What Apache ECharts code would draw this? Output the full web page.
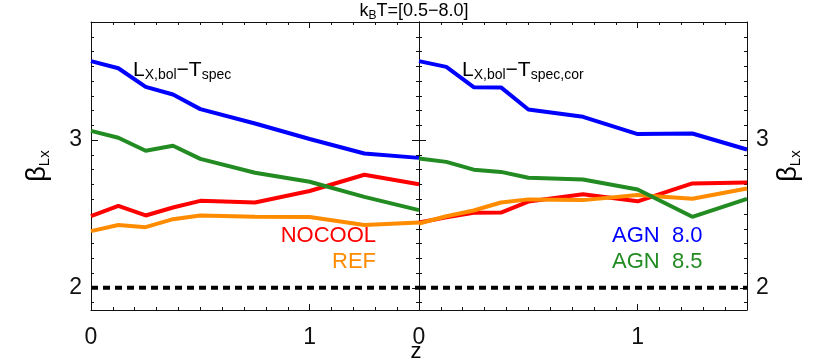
<!DOCTYPE html>
<html>
<head>
<meta charset="utf-8">
<script src="https://cdn.jsdelivr.net/npm/echarts@6/dist/echarts.min.js"></script>
<style>
html, body { margin: 0; padding: 0; background: #fff; }
#chart { width: 830px; height: 361px; }
</style>
</head>
<body>
<div id="chart"></div>
<script>
// redshift samples shared by every curve
var zVals = [0, 0.125, 0.25, 0.375, 0.5, 0.75, 1.0, 1.25, 1.5];

// left panel: Lx,bol - Tspec
var leftAgn80   = [3.535, 3.487, 3.361, 3.309, 3.210, 3.113, 3.008, 2.910, 2.880];
var leftAgn85   = [3.063, 3.016, 2.928, 2.962, 2.873, 2.779, 2.718, 2.616, 2.526];
var leftNocool  = [2.485, 2.555, 2.490, 2.544, 2.589, 2.578, 2.656, 2.766, 2.702];
var leftRef     = [2.384, 2.425, 2.411, 2.465, 2.490, 2.481, 2.479, 2.425, 2.443];

// right panel: Lx,bol - Tspec,cor
var rightAgn80  = [3.535, 3.496, 3.359, 3.357, 3.208, 3.158, 3.041, 3.045, 2.937];
var rightAgn85  = [2.876, 2.853, 2.800, 2.785, 2.745, 2.734, 2.666, 2.481, 2.602];
var rightNocool = [2.443, 2.477, 2.508, 2.510, 2.584, 2.633, 2.586, 2.707, 2.714];
var rightRef    = [2.436, 2.485, 2.524, 2.578, 2.599, 2.594, 2.628, 2.603, 2.673];

// self-similar reference level
var refZ = [0, 1.5];
var refBeta = [2, 2];

// ticks
var majorZ = [0, 1];
var minorZ = [0.1, 0.2, 0.3, 0.4, 0.5, 0.6, 0.7, 0.8, 0.9, 1.1, 1.2, 1.3, 1.4];
var majorBeta = [2, 3];
var minorBeta = [1.9, 2.1, 2.2, 2.3, 2.4, 2.5, 2.6, 2.7, 2.8, 2.9, 3.1, 3.2, 3.3, 3.4, 3.5, 3.6, 3.7];

var FONT = 'Liberation Sans';
var INK = '#111';
var COLORS = { agn80: '#0000ff', agn85: '#228b22', nocool: '#ff0000', ref: '#ff8c00' };

function pairs( xs, ys ) {
    return xs.map(function ( x, i ) { return [x, ys[i]]; });
}

//@param {string} dim 'x' or 'y'
//@param {number} grid index of the grid
//@param {string} pos axis position
//@param {array} ticks tick values, {number} len tick length
//@param {array|null} labels label values, {boolean} line draw the axis line
function makeAxis( dim, grid, pos, ticks, len, labels, line ) {
    var axis = {
        type: 'value',
        gridIndex: grid,
        position: pos,
        min: dim === 'x' ? 0 : 1.85,
        max: dim === 'x' ? 1.5 : 3.8,
        axisLine: { show: line, onZero: false, lineStyle: { color: INK, width: 1 } },
        axisTick: { show: true, inside: true, length: len, customValues: ticks,
                    lineStyle: { color: INK, width: 1 } },
        splitLine: { show: false },
        minorTick: { show: false },
        axisLabel: { show: false }
    };
    if (labels) {
        axis.axisLabel = {
            show: true,
            customValues: labels,
            fontFamily: FONT,
            fontSize: 23,
            color: INK,
            margin: dim === 'x' ? 16 : 9
        };
    }
    return axis;
}

function lineSeries( xi, yi, data, color ) {
    return {
        type: 'line',
        xAxisIndex: xi,
        yAxisIndex: yi,
        data: pairs(zVals, data),
        symbol: 'none',
        lineStyle: { color: color, width: 4 },
        z: 3
    };
}

function refSeries( xi, yi ) {
    return {
        type: 'line',
        xAxisIndex: xi,
        yAxisIndex: yi,
        data: pairs(refZ, refBeta),
        symbol: 'none',
        lineStyle: { color: '#000', width: 4, type: [7, 5] },
        z: 2
    };
}

function subText( x, y, main1, sub1, main2, sub2 ) {
    return {
        type: 'text',
        x: x, y: y,
        style: {
            text: '{m|' + main1 + '}{s|' + sub1 + '}{m|' + main2 + '}{s|' + sub2 + '}',
            align: 'left',
            verticalAlign: 'middle',
            rich: {
                m: { fontFamily: FONT, fontSize: 21, lineHeight: 24, fill: '#000' },
                s: { fontFamily: FONT, fontSize: 14, lineHeight: 14, verticalAlign: 'bottom', fill: '#000' }
            }
        }
    };
}

function betaLabel( x, y ) {
    return {
        type: 'text',
        x: x, y: y,
        rotation: Math.PI / 2,
        style: {
            text: '{b|β}{s|Lx}',
            align: 'center',
            verticalAlign: 'middle',
            rich: {
                b: { fontFamily: FONT, fontSize: 27, lineHeight: 28, fill: '#000' },
                s: { fontFamily: FONT, fontSize: 15, lineHeight: 15, verticalAlign: 'bottom', fill: '#000' }
            }
        }
    };
}

function legendText( x, y, text, color, align ) {
    return {
        type: 'text',
        x: x, y: y,
        style: { text: text, fontFamily: FONT, fontSize: 22, fill: color,
                 align: align, verticalAlign: 'middle' }
    };
}

var gridBox = { top: 22, height: 288, width: 328 };

var myChart = echarts.init(document.getElementById('chart')),
    option = {
        animation: false,
        backgroundColor: '#fff',
        grid: [
            { left: 91, top: gridBox.top, width: gridBox.width, height: gridBox.height },
            { left: 419, top: gridBox.top, width: gridBox.width, height: gridBox.height },
            // overlays carrying the minor ticks
            { left: 91, top: gridBox.top, width: gridBox.width, height: gridBox.height },
            { left: 419, top: gridBox.top, width: gridBox.width, height: gridBox.height }
        ],
        xAxis: [
            makeAxis('x', 0, 'bottom', majorZ, 6, majorZ, true),
            makeAxis('x', 0, 'top', majorZ, 6, null, true),
            makeAxis('x', 1, 'bottom', majorZ, 6, majorZ, true),
            makeAxis('x', 1, 'top', majorZ, 6, null, true),
            makeAxis('x', 2, 'bottom', minorZ, 3, null, false),
            makeAxis('x', 2, 'top', minorZ, 3, null, false),
            makeAxis('x', 3, 'bottom', minorZ, 3, null, false),
            makeAxis('x', 3, 'top', minorZ, 3, null, false)
        ],
        yAxis: [
            makeAxis('y', 0, 'left', majorBeta, 7, majorBeta, true),
            makeAxis('y', 0, 'right', majorBeta, 7, null, true),
            makeAxis('y', 1, 'left', majorBeta, 7, null, true),
            makeAxis('y', 1, 'right', majorBeta, 7, majorBeta, true),
            makeAxis('y', 2, 'left', minorBeta, 3, null, false),
            makeAxis('y', 2, 'right', minorBeta, 3, null, false),
            makeAxis('y', 3, 'left', minorBeta, 3, null, false),
            makeAxis('y', 3, 'right', minorBeta, 3, null, false)
        ],
        series: [
            refSeries(0, 0),
            lineSeries(0, 0, leftNocool, COLORS.nocool),
            lineSeries(0, 0, leftRef, COLORS.ref),
            lineSeries(0, 0, leftAgn80, COLORS.agn80),
            lineSeries(0, 0, leftAgn85, COLORS.agn85),
            refSeries(2, 2),
            lineSeries(2, 2, rightNocool, COLORS.nocool),
            lineSeries(2, 2, rightRef, COLORS.ref),
            lineSeries(2, 2, rightAgn80, COLORS.agn80),
            lineSeries(2, 2, rightAgn85, COLORS.agn85)
        ],
        graphic: [
            {
                type: 'text',
                x: 414, y: 11,
                style: {
                    text: '{m|k}{s|B}{m|T=[0.5−8.0]}',
                    align: 'center',
                    verticalAlign: 'middle',
                    rich: {
                        m: { fontFamily: FONT, fontSize: 18, lineHeight: 22, fill: '#000' },
                        s: { fontFamily: FONT, fontSize: 12, lineHeight: 12, verticalAlign: 'bottom', fill: '#000' }
                    }
                }
            },
            subText(133, 70, 'L', 'X,bol', '−T', 'spec'),
            subText(462, 70, 'L', 'X,bol', '−T', 'spec,cor'),
            legendText(376, 236, 'NOCOOL', COLORS.nocool, 'right'),
            legendText(376, 262, 'REF', COLORS.ref, 'right'),
            legendText(612, 236, 'AGN  8.0', COLORS.agn80, 'left'),
            legendText(612, 262, 'AGN  8.5', COLORS.agn85, 'left'),
            betaLabel(38, 166),
            betaLabel(789, 166),
            {
                type: 'text',
                x: 416, y: 352,
                style: { text: 'z', fontFamily: FONT, fontSize: 22, fill: '#000',
                         align: 'center', verticalAlign: 'middle' }
            }
        ]
    };

myChart.setOption(option);
</script>
</body>
</html>
